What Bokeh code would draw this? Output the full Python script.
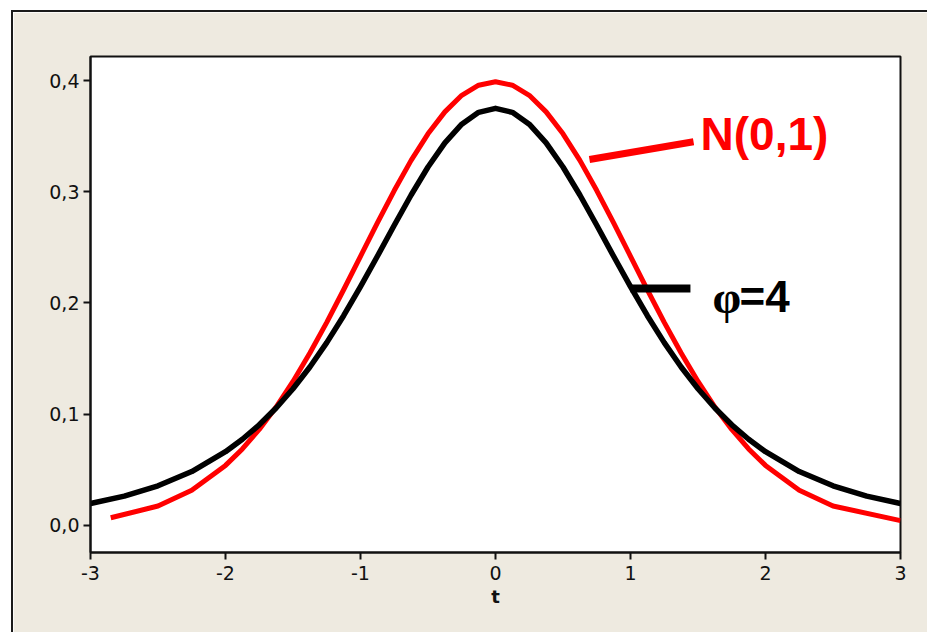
from bokeh.plotting import figure
from bokeh.models import FixedTicker, CustomJSTickFormatter, Range1d
from bokeh.core.properties import value
from bokeh.embed import file_html
from bokeh.resources import INLINE

# Student t density with 4 degrees of freedom (phi = 4)
t_student = [-3.0, -2.75, -2.5, -2.25, -2.0, -1.875, -1.75, -1.625, -1.5, -1.375,
             -1.25, -1.125, -1.0, -0.875, -0.75, -0.625, -0.5, -0.375, -0.25, -0.125,
             0.0, 0.125, 0.25, 0.375, 0.5, 0.625, 0.75, 0.875, 1.0, 1.125, 1.25,
             1.375, 1.5, 1.625, 1.75, 1.875, 2.0, 2.25, 2.5, 2.75, 3.0]
dens_student = [0.0197, 0.0264, 0.0357, 0.0485, 0.0663, 0.0775, 0.0905, 0.1056, 0.1229, 0.1425,
                0.1644, 0.1886, 0.2147, 0.2420, 0.2699, 0.2971, 0.3223, 0.3440, 0.3608, 0.3714,
                0.3750, 0.3714, 0.3608, 0.3440, 0.3223, 0.2971, 0.2699, 0.2420, 0.2147, 0.1886, 0.1644,
                0.1425, 0.1229, 0.1056, 0.0905, 0.0775, 0.0663, 0.0485, 0.0357, 0.0264, 0.0197]

# Standard normal density N(0,1)
t_normal = [-2.85, -2.5, -2.25, -2.0, -1.875, -1.75, -1.625, -1.5, -1.375,
            -1.25, -1.125, -1.0, -0.875, -0.75, -0.625, -0.5, -0.375, -0.25, -0.125,
            0.0, 0.125, 0.25, 0.375, 0.5, 0.625, 0.75, 0.875, 1.0, 1.125, 1.25,
            1.375, 1.5, 1.625, 1.75, 1.875, 2.0, 2.25, 2.5, 3.0]
dens_normal = [0.0069, 0.0175, 0.0317, 0.0540, 0.0688, 0.0863, 0.1065, 0.1295, 0.1550,
               0.1826, 0.2119, 0.2420, 0.2721, 0.3011, 0.3282, 0.3521, 0.3718, 0.3867, 0.3958,
               0.3989, 0.3958, 0.3867, 0.3718, 0.3521, 0.3282, 0.3011, 0.2721, 0.2420, 0.2119, 0.1826,
               0.1550, 0.1295, 0.1065, 0.0863, 0.0688, 0.0540, 0.0317, 0.0175, 0.0044]

x_ticks = [-3, -2, -1, 0, 1, 2, 3]
y_ticks = [0.0, 0.1, 0.2, 0.3, 0.4]

BEIGE = "#eeeae0"
RED = "#ff0000"
INK = "#111111"

p = figure(width=914, height=620, output_backend="svg", toolbar_location=None,
           x_range=Range1d(-3, 3), y_range=Range1d(-0.0243, 0.4216),
           min_border_left=77, min_border_right=27, min_border_top=44, min_border_bottom=80)
p.margin = (12, 0, 0, 13)
p.styles = {"outline": "2px solid #1a1a1a"}

p.background_fill_color = "white"
p.border_fill_color = BEIGE
p.outline_line_color = INK
p.outline_line_width = 2
p.grid.visible = False

for ax in (p.xaxis[0], p.yaxis[0]):
    ax.axis_line_color = INK
    ax.axis_line_width = 2
    ax.major_tick_line_color = INK
    ax.major_tick_line_width = 2
    ax.major_tick_out = 7
    ax.major_tick_in = 0
    ax.minor_tick_line_color = None
    ax.major_label_text_font = "DejaVu Sans"
    ax.major_label_text_font_size = "19px"
    ax.major_label_text_color = INK

p.xaxis.ticker = FixedTicker(ticks=x_ticks)
p.yaxis.ticker = FixedTicker(ticks=y_ticks)
p.xaxis.formatter = CustomJSTickFormatter(code="return String(Math.round(tick));")
p.yaxis.formatter = CustomJSTickFormatter(code="return tick.toFixed(1).replace('.', ',');")
p.xaxis.major_label_standoff = 6
p.yaxis.major_label_standoff = 4

p.xaxis.axis_label = "t"
p.xaxis.axis_label_text_font = "DejaVu Sans"
p.xaxis.axis_label_text_font_style = "bold"
p.xaxis.axis_label_text_font_size = "18px"
p.xaxis.axis_label_text_color = INK
p.xaxis.axis_label_standoff = 3

# density curves
p.line(t_normal, dens_normal, line_color=RED, line_width=5, line_join="round")
p.line(t_student, dens_student, line_color="black", line_width=5.5, line_join="round")

# callout lines and labels
p.line([0.696, 1.467], [0.329, 0.345], line_color=RED, line_width=7)
p.line([1.0, 1.444], [0.213, 0.213], line_color="black", line_width=8)

p.text(x=[1.519], y=[0.3515], text=["N(0,1)"], text_color=RED,
       text_font=value("Liberation Sans"), text_font_style="bold",
       text_font_size="46px", text_baseline="middle", text_align="left")
p.text(x=[1.607], y=[0.2045], text=["\u03c6"], text_color="black",
       text_font=value("Liberation Serif"), text_font_style="bold",
       text_font_size="46px", text_baseline="middle", text_align="left")
p.text(x=[1.807], y=[0.2060], text=["=4"], text_color="black",
       text_font=value("Liberation Sans"), text_font_style="bold",
       text_font_size="44px", text_baseline="middle", text_align="left")

open("out.html", "w").write(file_html(p, INLINE))
